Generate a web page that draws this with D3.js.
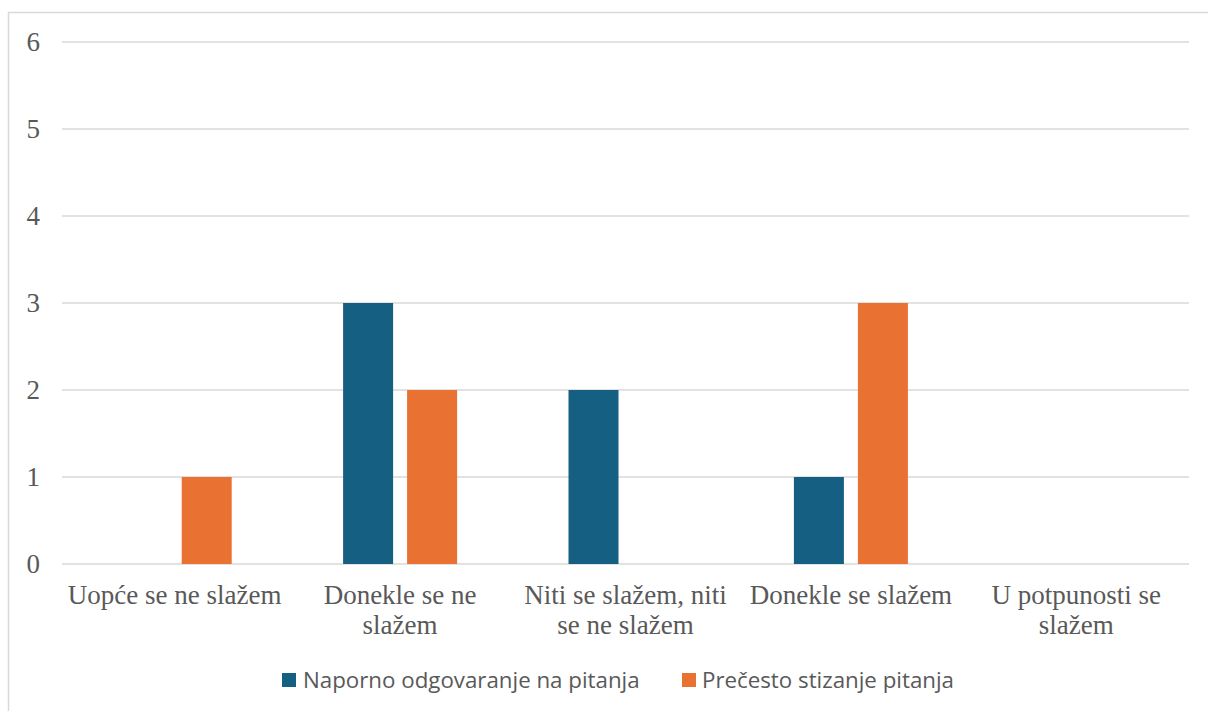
<!DOCTYPE html>
<html>
<head>
<meta charset="utf-8">
<script src="https://cdn.jsdelivr.net/npm/d3@7"></script>
<style>
  html, body { margin: 0; padding: 0; background: #fff; }
  svg { display: block; }
</style>
</head>
<body>
<svg id="chart" width="1208" height="711"></svg>
<script>
// Survey answers (Likert scale) and number of respondents per series
const categories = [
  ["Uopće se ne slažem"],
  ["Donekle se ne", "slažem"],
  ["Niti se slažem, niti", "se ne slažem"],
  ["Donekle se slažem"],
  ["U potpunosti se", "slažem"]
];
const seriesNames = ["Naporno odgovaranje na pitanja", "Prečesto stizanje pitanja"];
const naporno = [0, 3, 2, 1, 0];
const precesto = [1, 2, 0, 3, 0];
const yTicks = [0, 1, 2, 3, 4, 5, 6];
const colors = ["#156082", "#E97132"];

const svg = d3.select("#chart");
const plot = { left: 62, right: 1189, top: 42, bottom: 564 };

// Outer chart frame
svg.append("rect")
  .attr("x", 8.5).attr("y", 12.5)
  .attr("width", 1220).attr("height", 720)
  .attr("fill", "none").attr("stroke", "#d9d9d9").attr("stroke-width", 1.5);

const catKeys = categories.map(c => c.join(" "));
const x0 = d3.scaleBand().domain(catKeys).range([plot.left, plot.right]).paddingInner(0).paddingOuter(0);
const groupW = 114;
const x1 = d3.scaleBand().domain(seriesNames).range([0, groupW]).paddingInner(0.21875).paddingOuter(0);
const y = d3.scaleLinear().domain([0, 6]).range([plot.bottom, plot.top]);

// Horizontal gridlines
svg.append("g").selectAll("line").data(yTicks).join("line")
  .attr("x1", plot.left).attr("x2", plot.right)
  .attr("y1", d => y(d)).attr("y2", d => y(d))
  .attr("stroke", "#d9d9d9").attr("stroke-width", 1.5);

// Y tick labels
svg.append("g").selectAll("text").data(yTicks).join("text")
  .attr("x", 40).attr("y", d => y(d) + 9)
  .attr("text-anchor", "end")
  .attr("font-family", "'Liberation Serif', 'Times New Roman', serif")
  .attr("font-size", 27).attr("fill", "#595959")
  .text(d => d);

// Bars
const rows = catKeys.map((k, i) => ({ key: k, values: [naporno[i], precesto[i]] }));
const groups = svg.append("g").selectAll("g").data(rows).join("g")
  .attr("transform", d => `translate(${x0(d.key) + (x0.bandwidth() - groupW) / 2},0)`);
groups.selectAll("rect").data(d => d.values.map((v, j) => ({ s: seriesNames[j], v, j })))
  .join("rect")
  .filter(d => d.v > 0)
  .attr("x", d => x1(d.s))
  .attr("width", x1.bandwidth())
  .attr("y", d => y(d.v))
  .attr("height", d => y(0) - y(d.v))
  .attr("fill", d => colors[d.j]);

// Category labels (wrapped)
const catG = svg.append("g").selectAll("text").data(categories).join("text")
  .attr("text-anchor", "middle")
  .attr("font-family", "'Liberation Serif', 'Times New Roman', serif")
  .attr("font-size", 27).attr("fill", "#595959")
  .attr("transform", (d, i) => `translate(${x0(catKeys[i]) + x0.bandwidth() / 2},604)`);
catG.selectAll("tspan").data(d => d).join("tspan")
  .attr("x", 0).attr("dy", (d, i) => i === 0 ? 0 : 29.5)
  .text(d => d);

// Legend
const legendItems = [
  { name: seriesNames[0], color: colors[0], sx: 282, tx: 303 },
  { name: seriesNames[1], color: colors[1], sx: 682, tx: 702 }
];
const lg = svg.append("g").selectAll("g").data(legendItems).join("g");
lg.append("rect")
  .attr("x", d => d.sx).attr("y", 673).attr("width", 14).attr("height", 14)
  .attr("fill", d => d.color);
lg.append("text")
  .attr("x", d => d.tx).attr("y", 687.5)
  .attr("font-family", "'Open Sans', 'Liberation Sans', sans-serif")
  .attr("font-size", 22.3).attr("fill", "#595959")
  .text(d => d.name);
</script>
</body>
</html>
